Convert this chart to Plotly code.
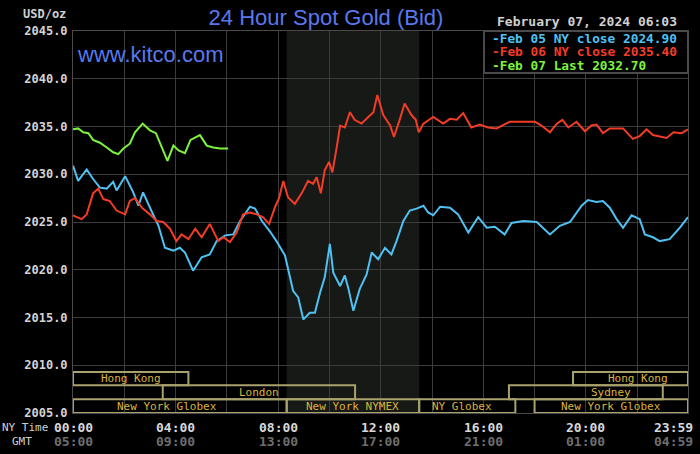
import plotly.graph_objects as go

# === Data (NY time, USD/oz) ===
feb05_time = ["00:00", "00:12", "00:32", "00:47", "01:03", "01:19", "01:34", "01:42", "02:02", "02:21",
              "02:33", "02:44", "03:00", "03:20", "03:35", "03:55", "04:10", "04:22", "04:41", "05:01",
              "05:20", "05:36", "05:56", "06:15", "06:31", "06:54", "07:06", "07:22", "07:41", "07:56",
              "08:16", "08:28", "08:35", "08:47", "08:59", "09:14", "09:26", "09:38", "09:49", "10:01",
              "10:09", "10:25", "10:36", "10:44", "10:56", "11:11", "11:27", "11:39", "11:54", "12:10",
              "12:25", "12:37", "12:53", "13:08", "13:24", "13:40", "13:51", "14:03", "14:19", "14:42",
              "15:01", "15:25", "15:48", "16:08", "16:27", "16:50", "17:06", "17:34", "18:05", "18:36",
              "18:59", "19:23", "19:50", "20:05", "20:25", "20:40", "20:56", "21:12", "21:27", "21:47",
              "22:06", "22:18", "22:37", "22:53", "23:16", "23:40", "23:59"]
feb05_price = [2030.9, 2029.3, 2030.5, 2029.5, 2028.6, 2028.5, 2029.2, 2028.3, 2029.8, 2028.1,
               2026.7, 2028.1, 2026.5, 2024.6, 2022.3, 2022.0, 2022.3, 2021.8, 2019.9, 2021.3,
               2021.6, 2023.0, 2023.6, 2023.7, 2025.1, 2026.6, 2026.4, 2025.1, 2024.0, 2023.0,
               2021.5, 2019.3, 2017.8, 2017.1, 2014.8, 2015.5, 2015.5, 2017.6, 2019.2, 2022.7,
               2019.7, 2018.3, 2019.4, 2018.1, 2015.7, 2018.0, 2019.5, 2021.8, 2021.1, 2022.3,
               2021.6, 2023.0, 2025.1, 2026.2, 2026.4, 2026.7, 2026.0, 2025.7, 2026.6, 2026.5,
               2025.8, 2023.9, 2025.5, 2024.4, 2024.5, 2023.7, 2024.9, 2025.1, 2025.0, 2023.7,
               2024.6, 2025.0, 2026.7, 2027.3, 2027.1, 2027.2, 2026.5, 2025.3, 2024.4, 2025.7,
               2025.3, 2023.7, 2023.4, 2023.0, 2023.2, 2024.4, 2025.5]

feb06_time = ["00:00", "00:20", "00:32", "00:47", "00:59", "01:11", "01:26", "01:42", "02:02", "02:13",
              "02:25", "02:41", "03:00", "03:16", "03:31", "03:47", "04:02", "04:14", "04:30", "04:46",
              "05:01", "05:20", "05:40", "05:52", "06:07", "06:23", "06:38", "06:54", "07:10", "07:25",
              "07:39", "07:53", "08:02", "08:12", "08:23", "08:39", "08:55", "09:10", "09:22", "09:30",
              "09:40", "09:49", "09:59", "10:07", "10:17", "10:25", "10:36", "10:48", "10:59", "11:15",
              "11:31", "11:43", "11:52", "12:06", "12:22", "12:31", "12:45", "12:56", "13:12", "13:22",
              "13:29", "13:40", "14:03", "14:26", "14:42", "14:58", "15:13", "15:32", "15:52", "16:11",
              "16:31", "17:02", "17:34", "18:01", "18:16", "18:36", "18:52", "19:05", "19:19", "19:38",
              "19:58", "20:13", "20:25", "20:40", "20:56", "21:27", "21:50", "22:06", "22:22", "22:37",
              "23:09", "23:25", "23:44", "23:59"]
feb06_price = [2025.7, 2025.3, 2025.8, 2028.0, 2028.5, 2027.4, 2027.2, 2026.2, 2025.8, 2027.2,
               2027.5, 2026.5, 2025.8, 2025.1, 2025.0, 2024.3, 2023.0, 2023.7, 2023.2, 2024.3,
               2023.4, 2024.8, 2023.0, 2023.4, 2022.9, 2023.9, 2025.8, 2026.0, 2025.8, 2025.5,
               2024.8, 2026.6, 2027.5, 2029.3, 2027.6, 2026.9, 2028.0, 2029.3, 2029.0, 2029.7,
               2028.0, 2030.4, 2031.3, 2030.2, 2032.8, 2035.1, 2034.9, 2036.5, 2035.7, 2035.3,
               2036.0, 2036.5, 2038.3, 2036.2, 2035.1, 2033.9, 2035.8, 2037.4, 2036.2, 2035.7,
               2034.4, 2035.3, 2036.0, 2035.3, 2035.8, 2035.7, 2036.4, 2034.9, 2035.2, 2034.9,
               2034.8, 2035.5, 2035.5, 2035.5, 2035.1, 2034.4, 2035.3, 2035.7, 2034.9, 2035.5,
               2034.5, 2035.1, 2035.2, 2034.3, 2034.8, 2034.8, 2033.7, 2034.0, 2034.7, 2034.1,
               2033.8, 2034.4, 2034.3, 2034.7]

feb07_time = ["00:00", "00:12", "00:24", "00:36", "00:47", "01:03", "01:19", "01:34", "01:46", "01:58",
              "02:13", "02:25", "02:43", "03:00", "03:14", "03:28", "03:41", "03:55", "04:07", "04:22",
              "04:35", "04:57", "05:13", "05:28", "05:44", "06:03"]
feb07_price = [2034.7, 2034.8, 2034.4, 2034.3, 2033.6, 2033.3, 2032.8, 2032.3, 2032.1, 2032.7,
               2033.2, 2034.4, 2035.3, 2034.6, 2034.3, 2032.8, 2031.4, 2033.0, 2032.5, 2032.2,
               2033.6, 2034.1, 2033.0, 2032.8, 2032.7, 2032.7]

legend_lines = ["Feb 05 NY close 2024.90", "Feb 06 NY close 2035.40", "Feb 07 Last 2032.70"]
stamp = "February 07, 2024 06:03"

# exchange sessions: name, open, close, row (0 = top)
session_name = ["Hong Kong", "Hong Kong", "London", "Sydney",
                "New York Globex", "New York NYMEX", "NY Globex", "New York Globex"]
session_open = ["00:00", "19:30", "03:30", "17:00", "00:00", "08:20", "13:30", "18:00"]
session_close = ["04:30", "23:59", "11:00", "23:00", "08:20", "13:30", "17:15", "23:59"]
session_row = [0, 0, 1, 1, 2, 2, 2, 2]

tick_time = ["00:00", "04:00", "08:00", "12:00", "16:00", "20:00", "23:59"]
tick_gmt = ["05:00", "09:00", "13:00", "17:00", "21:00", "01:00", "04:59"]


def mins(t):
    h, m = t.split(":")
    return int(h) * 60 + int(m)


# === Layout helpers (pixel -> paper) ===
W, H = 700, 454
L, R, T, B = 73, 12, 31, 41
PW, PH = W - L - R, H - T - B


def px(x):
    return (x - L) / PW


def py(y):
    return (H - B - y) / PH


BLUE = "#4fc1f2"
RED = "#f23c26"
GREEN = "#7ef23e"
MONO = "DejaVu Sans Mono"
GOLD = "#dcb33c"
BOX = "#a9a26c"


def note(x, y, text, size, color, xanchor="center", xref="paper", family=MONO,
         weight="bold", xshift=0):
    fig.add_annotation(x=x, y=y, xref=xref, yref="paper", xanchor=xanchor, yanchor="middle",
                       text=text, showarrow=False, xshift=xshift,
                       font=dict(family=family, size=size, color=color, weight=weight))


fig = go.Figure()
for t, v, c in [(feb05_time, feb05_price, BLUE), (feb06_time, feb06_price, RED),
                (feb07_time, feb07_price, GREEN)]:
    fig.add_trace(go.Scatter(x=[mins(s) for s in t], y=v, mode="lines",
                             line=dict(color=c, width=2), hoverinfo="skip"))

# NYMEX hours shading
fig.add_shape(type="rect", xref="x", yref="paper", x0=mins("08:20"), x1=mins("13:30"),
              y0=0, y1=1, fillcolor="#161916", line_width=0, layer="below")

# exchange boxes
row_y = [(2007.9, 2009.3), (2006.45, 2007.9), (2005.0, 2006.45)]
label_at = {1: "22:02", 3: "20:58", 4: "03:40", 6: "15:10"}
for i, name in enumerate(session_name):
    a, b = mins(session_open[i]), mins(session_close[i])
    y0, y1 = row_y[session_row[i]]
    fig.add_shape(type="rect", xref="x", yref="y", x0=a, x1=b, y0=y0, y1=y1,
                  line=dict(color=BOX, width=2), fillcolor="rgba(0,0,0,0)")
    xc = mins(label_at[i]) if i in label_at else (a + b) / 2
    fig.add_annotation(x=xc, y=(y0 + y1) / 2, xref="x", yref="y", text=name,
                       xanchor="center", yanchor="middle", showarrow=False,
                       font=dict(family=MONO, size=11, color=GOLD))

# legend box
fig.add_shape(type="rect", xref="paper", yref="paper", x0=px(484), x1=1, y0=py(73), y1=1,
              fillcolor="#000000", line=dict(color="#4a4a4a", width=2))
for i, (txt, c) in enumerate(zip(legend_lines, [BLUE, RED, GREEN])):
    note(px(490), py(38 + 13.6 * i), "-" + txt, 12.8, c, xanchor="left")

note(px(587), py(22), stamp, 13, "#d0d0d0")
note(px(75), py(55), "www.kitco.com", 22, "#5a78ee", xanchor="left",
     family="Liberation Sans", weight="normal")
note(px(68), py(14), "USD/oz", 12, "#d0d0d0", xanchor="right")

# x tick labels, NY time and GMT
for i, t in enumerate(tick_time):
    last = i == len(tick_time) - 1
    anchor = "right" if last else "center"
    sh = 7 if last else 0
    note(mins(t), py(427), t, 13, "#d8d8d8", xanchor=anchor, xref="x", xshift=sh)
    note(mins(t), py(441), tick_gmt[i], 13, "#6e6e6e", xanchor=anchor, xref="x", xshift=sh)
note(px(50), py(427), "NY Time", 11, "#d0d0d0", xanchor="right", weight="normal")
note(px(22), py(441), "GMT", 11, "#d0d0d0", weight="normal")

fig.update_layout(
    width=W, height=H,
    margin=dict(l=L, r=R, t=T, b=B),
    paper_bgcolor="#000000", plot_bgcolor="#000000",
    showlegend=False,
    title=dict(text="24 Hour Spot Gold (Bid)", x=326 / W, xanchor="center",
               y=1 - 17 / H, yanchor="middle",
               font=dict(family="Liberation Sans", size=22, color="#5a78ee")),
)
fig.update_xaxes(range=[0, 1439], tickvals=list(range(0, 1440, 120)) + [1439],
                 showticklabels=False, showgrid=True, gridcolor="#3c3c3c", gridwidth=1,
                 showline=True, linecolor="#4a4a4a", linewidth=1, mirror=True, zeroline=False)
fig.update_yaxes(range=[2005, 2045], dtick=5, tickformat=".1f",
                 showgrid=True, gridcolor="#3c3c3c", gridwidth=1,
                 showline=True, linecolor="#4a4a4a", linewidth=1, mirror=True, zeroline=False,
                 tickfont=dict(family=MONO, size=12, color="#d4d4d4", weight="bold"),
                 ticklabelstandoff=2)

fig.write_html("out.html", config={"displayModeBar": False},
               post_script="document.body.style.margin='0px';")
